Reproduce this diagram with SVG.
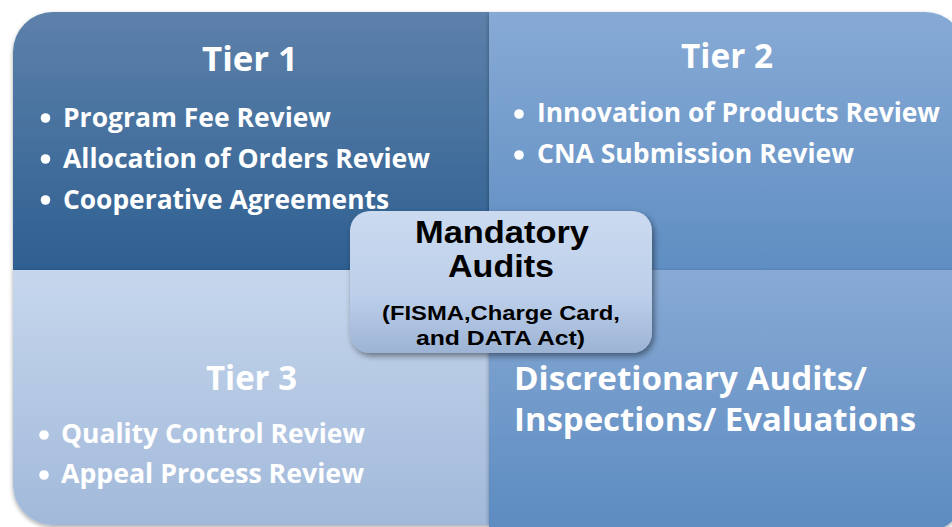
<svg xmlns="http://www.w3.org/2000/svg" width="952" height="527" viewBox="0 0 952 527">
<style>
.h{font-family:"Open Sans",Lato,sans-serif;font-weight:bold;fill:#fff}
.t{font-size:34px}
.b{font-size:26px}
.d{font-size:32px}
.m{font-family:"Liberation Sans",Arial,sans-serif;font-weight:bold;fill:#000}
</style>
<defs>
<linearGradient id="g1" x1="0" y1="0" x2="0" y2="1"><stop offset="0" stop-color="#5d81aa"/><stop offset="1" stop-color="#2e5f91"/></linearGradient>
<linearGradient id="g2" x1="0" y1="0" x2="0" y2="1"><stop offset="0" stop-color="#87aad5"/><stop offset="1" stop-color="#5f8ec2"/></linearGradient>
<linearGradient id="g3" x1="0" y1="0" x2="0" y2="1"><stop offset="0" stop-color="#c6d7ed"/><stop offset="1" stop-color="#a2b9da"/></linearGradient>
<linearGradient id="g4" x1="0" y1="0" x2="0" y2="1"><stop offset="0" stop-color="#88aad5"/><stop offset="1" stop-color="#5b8bc0"/></linearGradient>
<linearGradient id="gc" x1="0" y1="0" x2="0" y2="1"><stop offset="0" stop-color="#cbdaef"/><stop offset="0.6" stop-color="#bccfea"/><stop offset="1" stop-color="#9db3d5"/></linearGradient>
<filter id="sh" x="-10%" y="-10%" width="120%" height="130%"><feDropShadow dx="0" dy="2" stdDeviation="2" flood-color="#000" flood-opacity="0.35"/></filter>
<filter id="shc" x="-10%" y="-10%" width="125%" height="135%"><feDropShadow dx="2" dy="3" stdDeviation="3" flood-color="#000" flood-opacity="0.45"/></filter>
</defs>
<rect width="952" height="527" fill="#fff"/>
<g id="tier1">
<path d="M13,270 V52 A40,40 0 0 1 53,12 H489 V270 Z" fill="url(#g1)" filter="url(#sh)"/>
<text class="h t" x="202" y="71" textLength="96" lengthAdjust="spacingAndGlyphs">Tier 1</text>
<circle cx="45.5" cy="118" r="4.8" fill="#fff"/>
<circle cx="45.5" cy="159" r="4.8" fill="#fff"/>
<circle cx="45.5" cy="200" r="4.8" fill="#fff"/>
<text class="h b" x="63" y="127" textLength="268" lengthAdjust="spacingAndGlyphs">Program Fee Review</text>
<text class="h b" x="63" y="168" textLength="367" lengthAdjust="spacingAndGlyphs">Allocation of Orders Review</text>
<text class="h b" x="63" y="209" textLength="326" lengthAdjust="spacingAndGlyphs">Cooperative Agreements</text>
</g>
<g id="tier2">
<path d="M489,12 H925 A40,40 0 0 1 965,52 V270 H489 Z" fill="url(#g2)" filter="url(#sh)"/>
<text class="h t" x="681" y="68" textLength="92" lengthAdjust="spacingAndGlyphs">Tier 2</text>
<circle cx="519" cy="114" r="4.8" fill="#fff"/>
<circle cx="519" cy="155" r="4.8" fill="#fff"/>
<text class="h b" x="537" y="122" textLength="403" lengthAdjust="spacingAndGlyphs">Innovation of Products Review</text>
<text class="h b" x="537" y="163" textLength="317" lengthAdjust="spacingAndGlyphs">CNA Submission Review</text>
</g>
<g id="tier3">
<path d="M13,270 H489 V525 H53 A40,40 0 0 1 13,485 Z" fill="url(#g3)" filter="url(#sh)"/>
<text class="h t" x="206" y="390" textLength="91" lengthAdjust="spacingAndGlyphs">Tier 3</text>
<circle cx="44" cy="435" r="4.8" fill="#fff"/>
<circle cx="44" cy="475" r="4.8" fill="#fff"/>
<text class="h b" x="61" y="443" textLength="304" lengthAdjust="spacingAndGlyphs">Quality Control Review</text>
<text class="h b" x="61" y="483" textLength="303" lengthAdjust="spacingAndGlyphs">Appeal Process Review</text>
</g>
<g id="discretionary">
<path d="M489,270 H965 V492 A40,40 0 0 1 925,532 H489 Z" fill="url(#g4)" filter="url(#sh)"/>
<text class="h d" x="514" y="390" textLength="353" lengthAdjust="spacingAndGlyphs">Discretionary Audits/</text>
<text class="h d" x="514" y="431" textLength="402" lengthAdjust="spacingAndGlyphs">Inspections/ Evaluations</text>
</g>
<g id="mandatory">
<rect x="350" y="211" width="302" height="142" rx="20" fill="url(#gc)" filter="url(#shc)"/>
<text class="m" font-size="31" x="415" y="243" textLength="174" lengthAdjust="spacingAndGlyphs">Mandatory</text>
<text class="m" font-size="31" x="448" y="277" textLength="106" lengthAdjust="spacingAndGlyphs">Audits</text>
<text class="m" font-size="20" x="382" y="320" textLength="238" lengthAdjust="spacingAndGlyphs">(FISMA,Charge Card,</text>
<text class="m" font-size="20" x="416" y="345" textLength="169" lengthAdjust="spacingAndGlyphs">and DATA Act)</text>
</g>
<g id="connectors"/>
</svg>
